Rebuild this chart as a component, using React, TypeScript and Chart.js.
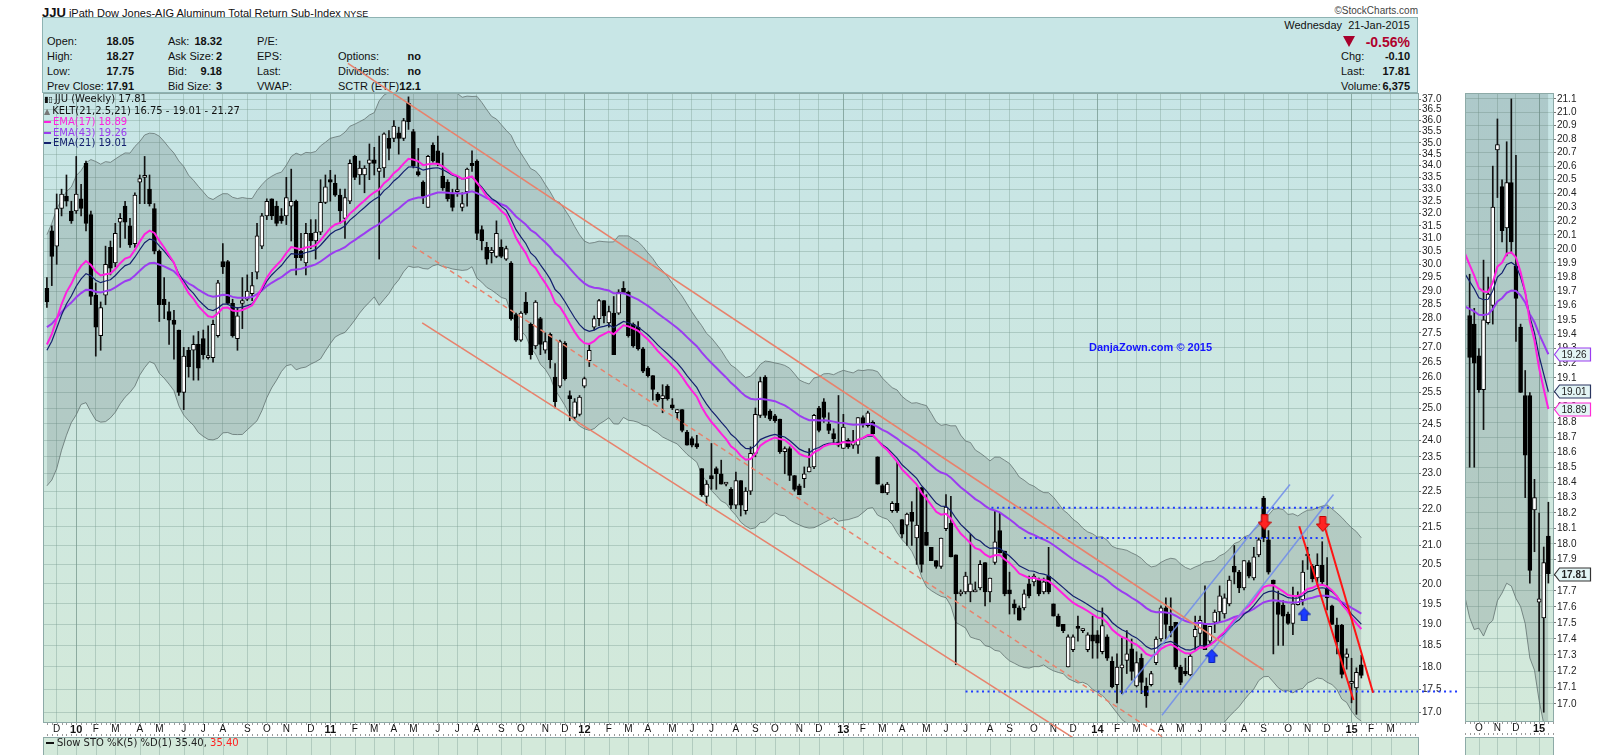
import React, { useEffect, useRef } from 'react';
import { Chart, registerables } from 'chart.js';

Chart.register(...registerables);

const FONT = '"Liberation Sans", Arial, sans-serif';

// ---------- data (weekly bars, first bar = week of 23-Nov-2009) ----------
const START_DATE_UTC = Date.UTC(2009, 10, 23);
const MONTH_LETTERS = ['J', 'F', 'M', 'A', 'M', 'J', 'J', 'A', 'S', 'O', 'N', 'D'];

const OPEN = [
  29.1, 31.3, 30.7, 32.2, 32.7, 32.1, 32.1, 32.6, 34.1, 31.95,
  28.85, 27.4, 28.85, 30.65, 30.05, 31.65, 32.3, 31.5, 30.8, 33.3,
  33.5, 33.0, 32.2, 30.5, 28.7, 28.25, 27.95, 27.6, 25.5, 26.9,
  26.9, 27.1, 27.3, 26.65, 26.65, 27.4, 30.1, 30.1, 28.55, 27.3,
  28.55, 28.7, 28.9, 29.7, 30.7, 31.9, 32.6, 32.3, 31.9, 31.9,
  32.3, 32.5, 30.5, 30.05, 31.2, 30.9, 31.25, 32.45, 33.4, 33.25,
  32.75, 31.8, 32.5, 34.4, 33.6, 33.6, 34.1, 34.25, 33.75, 33.9,
  35.2, 35.2, 35.45, 35.2, 36.8, 35.5, 33.75, 33.3, 32.25, 34.9,
  34.65, 33.55, 33.3, 32.8, 32.9, 32.25, 32.9, 34.1, 34.2, 31.35,
  30.65, 30.45, 30.3, 30.65, 30.2, 30.05, 28.15, 27.25, 28.6, 27.8,
  27.05, 28.0, 26.9, 27.45, 26.0, 25.7, 27.15, 25.4, 24.7, 24.8,
  25.7, 26.55, 27.7, 28.0, 28.65, 27.85, 28.2, 28.2, 29.1, 28.95,
  27.8, 27.7, 26.95, 26.3, 26.05, 25.45, 25.3, 25.7, 25.1, 24.85,
  24.95, 24.25, 24.05, 23.9, 23.15, 22.35, 22.95, 23.15, 23.0, 22.7,
  22.55, 22.1, 22.8, 21.95, 22.5, 23.6, 24.77, 26.0, 24.9, 24.75,
  24.65, 23.65, 23.75, 22.95, 22.65, 22.86, 23.05, 23.2, 25.0, 25.2,
  24.5, 24.2, 23.95, 23.75, 24.0, 23.85, 23.85, 24.7, 24.45, 24.55,
  23.5, 22.66, 22.45, 21.95, 22.15, 21.7, 21.55, 21.9, 21.2, 22.6,
  21.35, 20.95, 20.6, 20.45, 21.45, 21.6, 20.75, 19.75, 19.8, 19.8,
  19.8, 19.9, 20.55, 19.8, 20.55, 21.4, 20.85, 19.85, 19.5, 19.4,
  19.4, 20.0, 20.05, 20.1, 19.8, 20.2, 19.5, 19.2, 19.0, 18.0,
  18.4, 18.95, 18.85, 18.4, 18.75, 18.75, 18.35, 18.7, 18.13, 17.6,
  17.98, 18.15, 18.42, 17.57, 18.2, 17.57, 17.6, 18.1, 18.65, 19.4,
  18.95, 19.05, 18.0, 17.9, 17.82, 18.7, 18.78, 19.0, 18.6, 19.05,
  19.3, 19.25, 19.5, 20.45, 20.3, 19.9, 20.55, 20.15, 20.75, 22.3,
  21.15, 20.1, 19.53, 19.47, 19.25, 19.02, 19.48, 19.6, 20.72, 20.45,
  20.15, 20.48, 19.88, 19.45, 18.98, 18.98, 18.22, 17.63, 17.53, 18.05,
];
const HIGH = [
  29.5, 31.5, 32.8, 33.0, 33.6, 32.5, 34.4, 33.2, 34.2, 32.1,
  29.3, 28.6, 30.7, 30.9, 31.6, 32.0, 32.5, 31.8, 32.85, 33.6,
  34.4, 33.6, 32.4, 30.55, 29.5, 28.6, 28.3, 27.6, 27.0, 27.0,
  27.4, 27.55, 27.6, 27.75, 27.95, 29.4, 30.8, 30.15, 28.7, 28.4,
  29.5, 29.6, 29.7, 31.6, 32.0, 32.6, 32.6, 32.5, 32.2, 33.5,
  33.85, 32.55, 31.2, 31.6, 31.75, 31.75, 33.4, 33.6, 33.8, 33.6,
  33.0, 33.0, 34.25, 34.45, 34.2, 34.0, 34.95, 34.8, 35.3, 35.45,
  35.55, 36.0, 35.7, 36.1, 37.1, 35.6, 34.75, 33.35, 34.45, 35.0,
  35.3, 34.55, 33.4, 33.0, 33.5, 32.85, 33.9, 34.65, 34.25, 31.5,
  30.85, 30.65, 31.7, 30.95, 30.7, 30.1, 28.2, 28.25, 28.95, 27.85,
  28.65, 28.05, 27.5, 27.5, 26.45, 27.25, 27.2, 25.55, 25.3, 25.4,
  26.0, 27.1, 28.1, 28.7, 28.65, 28.45, 28.8, 29.05, 29.35, 29.0,
  27.85, 27.9, 27.0, 26.35, 26.05, 25.5, 25.75, 25.75, 25.3, 24.95,
  24.95, 24.3, 24.1, 24.15, 23.15, 22.8, 23.9, 23.2, 23.4, 22.75,
  22.6, 23.05, 22.8, 22.6, 23.8, 25.0, 26.0, 26.05, 24.95, 24.8,
  24.65, 23.8, 23.8, 22.95, 22.7, 23.2, 23.75, 24.8, 25.05, 25.3,
  24.85, 24.35, 25.4, 24.8, 24.05, 24.3, 24.7, 24.75, 24.9, 24.6,
  23.5, 22.7, 22.75, 22.2, 23.35, 21.7, 21.88, 22.2, 22.6, 22.6,
  22.4, 20.95, 20.6, 21.2, 22.4, 22.35, 20.75, 19.85, 20.3, 21.3,
  20.05, 20.6, 20.55, 20.15, 21.95, 21.9, 20.85, 20.3, 19.6, 19.45,
  19.85, 20.2, 20.25, 20.15, 20.15, 20.95, 19.5, 19.25, 19.0, 18.75,
  18.75, 19.2, 18.9, 18.8, 19.2, 18.85, 19.4, 18.75, 18.23, 18.3,
  18.7, 18.85, 18.65, 18.35, 18.3, 17.75, 17.9, 18.7, 19.45, 19.65,
  19.65, 19.05, 18.04, 18.2, 18.3, 19.2, 19.2, 19.95, 18.95, 19.35,
  19.95, 19.75, 20.2, 21.0, 20.35, 20.6, 20.6, 20.95, 21.2, 22.35,
  21.4, 20.1, 19.82, 19.58, 19.3, 19.92, 19.8, 20.6, 20.95, 20.5,
  20.78, 21.1, 20.68, 19.47, 19.15, 19.0, 18.42, 18.2, 17.98, 18.27,
];
const LOW = [
  28.4, 29.2, 30.0, 31.9, 32.3, 31.6, 32.0, 31.9, 31.3, 28.5,
  26.7, 26.9, 28.5, 29.6, 29.9, 30.65, 31.0, 30.65, 30.65, 32.4,
  32.4, 32.3, 30.4, 27.9, 28.0, 27.1, 26.6, 25.4, 24.95, 26.0,
  25.9, 25.9, 26.6, 26.6, 26.5, 27.35, 29.65, 28.5, 27.35, 26.9,
  27.65, 28.65, 28.65, 29.45, 30.6, 31.75, 31.75, 31.5, 31.6, 31.55,
  30.9, 29.6, 30.15, 29.6, 30.6, 30.2, 31.15, 32.4, 32.5, 32.7,
  31.6, 31.0, 32.4, 33.4, 33.2, 32.85, 33.4, 33.6, 30.2, 33.5,
  34.25, 35.05, 34.5, 35.1, 35.6, 33.9, 33.55, 32.4, 32.25, 34.15,
  34.0, 32.95, 32.5, 32.1, 32.7, 32.1, 32.3, 33.75, 30.95, 30.55,
  30.0, 30.05, 30.25, 30.25, 30.15, 27.95, 27.2, 27.2, 28.15, 26.6,
  26.95, 26.75, 26.8, 26.3, 25.0, 25.65, 25.9, 24.6, 24.6, 24.75,
  25.65, 26.35, 27.6, 27.75, 27.85, 27.7, 26.75, 28.15, 28.9, 27.35,
  27.0, 26.9, 26.15, 26.0, 25.25, 25.2, 24.85, 25.25, 24.95, 24.65,
  24.25, 23.85, 23.8, 23.75, 22.35, 22.1, 22.55, 22.55, 22.7, 22.65,
  22.0, 22.0, 21.8, 21.85, 22.4, 23.5, 24.7, 24.7, 24.6, 24.55,
  23.6, 23.0, 22.8, 22.5, 22.4, 22.6, 23.05, 23.15, 24.25, 24.55,
  24.2, 23.9, 23.8, 23.75, 23.75, 23.75, 23.6, 24.4, 24.4, 24.15,
  22.7, 22.45, 22.4, 21.9, 21.9, 21.2, 21.0, 21.0, 20.5, 20.3,
  21.0, 20.6, 20.4, 20.4, 21.4, 20.7, 18.05, 19.7, 19.75, 19.55,
  19.8, 19.85, 19.45, 19.55, 20.5, 20.8, 19.7, 19.25, 19.25, 19.1,
  19.35, 19.65, 19.95, 19.7, 19.75, 19.75, 19.2, 18.95, 18.8, 18.0,
  18.35, 18.6, 18.8, 18.35, 18.2, 18.2, 18.3, 18.15, 17.53, 17.2,
  17.4, 17.85, 17.7, 17.55, 17.4, 17.1, 17.57, 18.05, 18.6, 18.65,
  18.7, 17.95, 17.6, 17.8, 17.8, 18.4, 18.5, 18.4, 18.55, 18.8,
  19.05, 19.15, 19.45, 20.0, 19.78, 19.85, 20.15, 20.1, 20.7, 21.1,
  20.25, 18.3, 18.5, 18.5, 19.0, 18.75, 19.47, 19.47, 20.37, 20.05,
  19.95, 19.97, 19.35, 19.0, 18.3, 17.75, 17.95, 17.2, 16.95, 17.75,
];
const CLOSE = [
  28.6, 30.3, 32.2, 32.8, 32.5, 31.7, 32.8, 32.2, 31.6, 28.8,
  27.7, 28.4, 30.0, 29.85, 31.2, 31.8, 31.65, 30.75, 32.75, 33.45,
  33.55, 32.4, 30.5, 28.5, 28.5, 27.95, 27.8, 25.5, 26.7, 26.35,
  27.1, 26.3, 26.75, 26.7, 27.8, 29.3, 29.9, 28.55, 27.4, 28.1,
  28.65, 29.0, 29.2, 31.1, 31.9, 32.5, 31.9, 31.6, 31.7, 32.65,
  32.5, 30.25, 30.25, 31.2, 30.9, 31.25, 32.45, 33.1, 33.3, 32.75,
  32.1, 32.65, 34.1, 33.5, 33.9, 33.9, 34.25, 34.1, 33.9, 35.4,
  34.75, 35.75, 35.2, 36.0, 35.95, 34.0, 33.6, 32.7, 34.4, 34.2,
  34.1, 33.05, 32.6, 32.25, 32.95, 32.4, 33.85, 34.0, 31.2, 30.9,
  30.2, 30.55, 31.2, 30.3, 30.6, 28.0, 27.25, 28.2, 28.2, 26.75,
  28.6, 27.1, 27.2, 26.58, 25.2, 27.2, 25.95, 25.3, 25.2, 25.35,
  25.95, 26.9, 28.0, 28.65, 28.1, 28.25, 26.75, 28.95, 28.95, 27.4,
  27.05, 26.95, 26.2, 26.05, 25.6, 25.25, 25.4, 25.3, 25.0, 24.95,
  24.3, 23.85, 23.85, 23.8, 22.4, 22.7, 22.85, 23.0, 22.7, 22.7,
  22.1, 22.8, 22.1, 22.5, 23.6, 24.8, 25.85, 24.77, 24.65, 24.6,
  23.65, 23.75, 22.95, 22.55, 22.4, 23.0, 23.2, 24.77, 24.3, 24.7,
  24.3, 24.05, 23.85, 24.4, 23.8, 23.95, 24.7, 24.5, 24.85, 24.2,
  22.7, 22.45, 22.7, 22.15, 21.95, 21.3, 21.85, 21.65, 21.55, 20.5,
  21.0, 20.6, 20.45, 21.2, 22.05, 20.7, 19.75, 19.8, 20.2, 20.0,
  19.85, 20.5, 19.8, 20.15, 21.1, 20.8, 19.75, 19.75, 19.4, 19.1,
  19.75, 19.7, 20.2, 19.75, 20.05, 19.8, 19.2, 18.95, 18.85, 18.7,
  18.7, 18.9, 18.9, 18.75, 18.6, 18.55, 18.97, 18.2, 17.55, 18.0,
  18.05, 18.3, 17.9, 18.1, 17.65, 17.35, 17.85, 18.65, 19.4, 19.0,
  18.85, 18.0, 17.65, 17.84, 18.25, 18.88, 19.1, 18.4, 18.95, 19.3,
  19.7, 19.65, 20.1, 20.3, 19.9, 20.6, 20.2, 20.7, 21.15, 21.2,
  20.3, 20.0, 19.24, 19.2, 19.02, 19.5, 19.68, 20.3, 20.76, 20.13,
  20.48, 20.05, 19.65, 19.0, 18.58, 17.83, 18.3, 17.65, 17.88, 17.81,
];

// indicator seeds
const EMA_SEEDS = [27.1, 26.9, 27.7]; // EMA17, EMA21, EMA43
const ATR_SEED = 1.7;
const KELT_MULT = 2.5;

// last values shown in legend / axis tags
const LAST_VALUES = [18.89, 19.01, 19.26, 17.81]; // EMA17, EMA21, EMA43, close
const KELT_LAST = [16.75, 19.01, 21.27];

// first bar shown in the zoomed side panel
const SIDE_FIRST_BAR = 252;

const MAIN_Y_TICKS = [
  17.0, 17.5, 18.0, 18.5, 19.0, 19.5, 20.0, 20.5, 21.0, 21.5, 22.0, 22.5, 23.0, 23.5,
  24.0, 24.5, 25.0, 25.5, 26.0, 26.5, 27.0, 27.5, 28.0, 28.5, 29.0, 29.5, 30.0, 30.5,
  31.0, 31.5, 32.0, 32.5, 33.0, 33.5, 34.0, 34.5, 35.0, 35.5, 36.0, 36.5, 37.0,
];
const SIDE_Y_TICKS = [
  17.0, 17.1, 17.2, 17.3, 17.4, 17.5, 17.6, 17.7, 17.8, 17.9, 18.0, 18.1, 18.2, 18.3,
  18.4, 18.5, 18.6, 18.7, 18.8, 18.9, 19.0, 19.1, 19.2, 19.3, 19.4, 19.5, 19.6, 19.7,
  19.8, 19.9, 20.0, 20.1, 20.2, 20.3, 20.4, 20.5, 20.6, 20.7, 20.8, 20.9, 21.0, 21.1,
];

// annotations (week index, price)
const CHANNEL_UPPER = [{ x: 61.6, y: 38.71 }, { x: 249.0, y: 17.93 }];
const CHANNEL_MID = [{ x: 74.8, y: 30.71 }, { x: 233.2, y: 16.15 }];
const CHANNEL_LOWER = [{ x: 76.8, y: 27.85 }, { x: 214.7, y: 16.15 }];
const UP_LINE_A = [{ x: 220.0, y: 17.37 }, { x: 254.4, y: 22.69 }];
const UP_LINE_B = [{ x: 228.2, y: 16.93 }, { x: 263.3, y: 22.4 }];
const DOWN_LINE_C = [{ x: 256.3, y: 21.52 }, { x: 267.4, y: 17.26 }];
const DOWN_LINE_D = [{ x: 261.4, y: 21.55 }, { x: 271.4, y: 17.42 }];
const LEVEL_HIGH = [{ x: 193.3, y: 22.03 }, { x: 263.3, y: 22.03 }];
const LEVEL_MID = [{ x: 200.0, y: 21.2 }, { x: 261.6, y: 21.2 }];
const LEVEL_LOW = [{ x: 188.0, y: 17.45 }, { x: 288.8, y: 17.45 }];
const SELL_ARROWS = [{ x: 249.2, y: 21.63 }, { x: 261.1, y: 21.58 }];
const BUY_ARROWS = [{ x: 238.4, y: 18.25 }, { x: 257.3, y: 19.24 }];

// ---------- helpers ----------
function weekDate(i: number) {
  return new Date(START_DATE_UTC + i * 7 * 86400000);
}
function monthTicks(from: number, to: number) {
  const out: any[] = [];
  for (let i = Math.ceil(from); i <= to; i++) {
    const d = weekDate(i);
    if (d.getUTCDate() <= 7) {
      const m = d.getUTCMonth();
      out.push({
        value: i,
        label: m === 0 ? String(d.getUTCFullYear() % 100).padStart(2, '0') : MONTH_LETTERS[m],
        year: m === 0,
      });
    }
  }
  return out;
}
function emaSeries(src: number[], n: number, seed: number) {
  const k = 2 / (n + 1);
  let e = seed;
  return src.map((v, i) => {
    if (i > 0) e = e + k * (v - e);
    return e;
  });
}
function atrSeries(n: number, seed: number) {
  let a = seed;
  return CLOSE.map((_, i) => {
    if (i === 0) return a;
    const pc = CLOSE[i - 1];
    const tr = Math.max(HIGH[i] - LOW[i], Math.abs(HIGH[i] - pc), Math.abs(LOW[i] - pc));
    a = (a * (n - 1) + tr) / n;
    return a;
  });
}
function makeArrow(fill: string, stroke: string, down: boolean, w: number, h: number) {
  const c = document.createElement('canvas');
  c.width = w;
  c.height = h;
  const g = c.getContext('2d') as CanvasRenderingContext2D;
  const sw = w * 0.22;
  const hh = h * 0.5;
  g.beginPath();
  if (down) {
    g.moveTo(w / 2 - sw, 0.5); g.lineTo(w / 2 + sw, 0.5); g.lineTo(w / 2 + sw, hh);
    g.lineTo(w - 0.5, hh); g.lineTo(w / 2, h - 0.5); g.lineTo(0.5, hh); g.lineTo(w / 2 - sw, hh);
  } else {
    g.moveTo(w / 2, 0.5); g.lineTo(w - 0.5, hh); g.lineTo(w / 2 + sw, hh); g.lineTo(w / 2 + sw, h - 0.5);
    g.lineTo(w / 2 - sw, h - 0.5); g.lineTo(w / 2 - sw, hh); g.lineTo(0.5, hh);
  }
  g.closePath();
  g.fillStyle = fill;
  g.fill();
  g.strokeStyle = stroke;
  g.lineWidth = 1;
  g.stroke();
  return c;
}

const GRID = 'rgba(120,155,145,0.38)';
const GRID_YEAR = 'rgba(95,130,120,0.6)';
const FRAME = '#8daaa7';

function decorPlugin(id: string, tags: boolean) {
  return {
    id,
    beforeDraw(chart: any) {
      const { ctx, chartArea: a } = chart;
      ctx.save();
      const g = ctx.createLinearGradient(0, a.top, 0, a.bottom);
      g.addColorStop(0, '#c7e5e6');
      g.addColorStop(1, '#d3e9da');
      ctx.fillStyle = g;
      ctx.fillRect(a.left, a.top, a.right - a.left, a.bottom - a.top);
      ctx.restore();
    },
    afterDraw(chart: any) {
      const { ctx, chartArea: a, scales } = chart;
      const xs = scales.x;
      ctx.save();
      ctx.strokeStyle = FRAME;
      ctx.lineWidth = 1;
      ctx.strokeRect(Math.round(a.left) + 0.5, Math.round(a.top) + 0.5, Math.round(a.right - a.left), Math.round(a.bottom - a.top));
      // weekly tick marks along the date strip
      ctx.strokeStyle = '#9a9a9a';
      for (let i = Math.ceil(xs.min); i <= xs.max; i++) {
        const x = Math.round(xs.getPixelForValue(i)) + 0.5;
        ctx.beginPath();
        ctx.moveTo(x, a.bottom + 1); ctx.lineTo(x, a.bottom + 3);
        ctx.moveTo(x, a.bottom + 12); ctx.lineTo(x, a.bottom + 14);
        ctx.stroke();
      }
      // indicator panel below
      const top = 737;
      ctx.fillStyle = '#d3e9da';
      ctx.fillRect(a.left, top, a.right - a.left, 30);
      ctx.strokeStyle = GRID;
      xs.ticks.forEach((t: any) => {
        const x = Math.round(xs.getPixelForValue(t.value)) + 0.5;
        ctx.beginPath(); ctx.moveTo(x, top); ctx.lineTo(x, top + 30); ctx.stroke();
      });
      ctx.strokeStyle = FRAME;
      ctx.strokeRect(Math.round(a.left) + 0.5, top + 0.5, Math.round(a.right - a.left), 30);
      if (tags) {
        const ys = scales.y;
        const defs = [
          { v: LAST_VALUES[2], c: '#9b3cf0', b: false },
          { v: LAST_VALUES[1], c: '#2a3560', b: false },
          { v: LAST_VALUES[0], c: '#ff2bd6', b: false },
          { v: LAST_VALUES[3], c: '#333333', b: true },
        ];
        defs.forEach((d) => {
          const y = Math.round(ys.getPixelForValue(d.v)) + 0.5;
          const x0 = a.right + 1.5;
          ctx.beginPath();
          ctx.moveTo(x0, y);
          ctx.lineTo(x0 + 5, y - 6.5);
          ctx.lineTo(x0 + 36, y - 6.5);
          ctx.lineTo(x0 + 36, y + 6.5);
          ctx.lineTo(x0 + 5, y + 6.5);
          ctx.closePath();
          ctx.fillStyle = '#e3f5f5';
          ctx.fill();
          ctx.strokeStyle = d.c;
          ctx.lineWidth = 1.2;
          ctx.stroke();
          ctx.fillStyle = '#222';
          ctx.font = (d.b ? 'bold ' : '') + '10px ' + FONT;
          ctx.textBaseline = 'middle';
          ctx.textAlign = 'left';
          ctx.fillText(d.v.toFixed(2), x0 + 7, y + 0.5);
        });
      }
      ctx.restore();
    },
  };
}

function T(props: any) {
  const { x, y, r, size = 11, bold, color = '#111', children, family } = props;
  const style: any = {
    position: 'absolute',
    top: y - size * 0.6,
    fontSize: size,
    lineHeight: `${Math.round(size * 1.2)}px`,
    fontWeight: bold ? 'bold' : 'normal',
    color,
    whiteSpace: 'nowrap',
    fontFamily: family || FONT,
  };
  if (r !== undefined) style.right = 1600 - r;
  else style.left = x;
  return <div style={style}>{children}</div>;
}

export default function App() {
  const mainRef = useRef<HTMLCanvasElement | null>(null);
  const sideRef = useRef<HTMLCanvasElement | null>(null);

  useEffect(() => {
    const ema17 = emaSeries(CLOSE, 17, EMA_SEEDS[0]);
    const ema21 = emaSeries(CLOSE, 21, EMA_SEEDS[1]);
    const ema43 = emaSeries(CLOSE, 43, EMA_SEEDS[2]);
    const atr = atrSeries(21, ATR_SEED);
    const kUp = ema21.map((m, i) => m + KELT_MULT * atr[i]);
    const kLo = ema21.map((m, i) => m - KELT_MULT * atr[i]);
    const pts = (arr: number[]) => arr.map((v, i) => ({ x: i, y: v }));

    const makeSets = (from: number, clipBars: boolean) => {
      const idx = OPEN.map((_, i) => i).filter((i) => i >= from);
      const bodies = idx.map((i) => ({ x: i, y: [Math.min(OPEN[i], CLOSE[i]), Math.max(OPEN[i], CLOSE[i])] }));
      const bodyColors = idx.map((i) => (CLOSE[i] < OPEN[i] ? '#000000' : '#ffffff'));
      const wicks = idx.map((i) => ({ x: i, y: [LOW[i], HIGH[i]] }));
      const barClip = clipBars ? 0 : undefined;
      return [
        {
          type: 'line', data: pts(kUp), borderColor: 'rgba(95,110,108,0.75)', borderWidth: 1,
          backgroundColor: 'rgba(70,92,90,0.2)', fill: '+1', pointRadius: 0, order: 20,
        },
        {
          type: 'line', data: pts(kLo), borderColor: 'rgba(95,110,108,0.75)', borderWidth: 1,
          pointRadius: 0, fill: false, order: 20,
        },
        {
          type: 'bar', data: bodies, backgroundColor: bodyColors, borderColor: '#000', borderWidth: 1,
          borderSkipped: false, barThickness: 4, grouped: false, minBarLength: 2, order: 3, clip: barClip,
        },
        {
          type: 'bar', data: wicks, backgroundColor: '#111', borderWidth: 0, barThickness: 1,
          grouped: false, order: 4, clip: barClip,
        },
        { type: 'line', data: pts(ema43), borderColor: '#9b3cf0', borderWidth: 2, pointRadius: 0, order: 2 },
        { type: 'line', data: pts(ema21), borderColor: '#14206e', borderWidth: 1.2, pointRadius: 0, order: 1 },
        { type: 'line', data: pts(ema17), borderColor: '#ff1fe0', borderWidth: 2, pointRadius: 0, order: 0 },
      ];
    };

    const lineDs = (data: any, color: string, width: number, dash?: number[]) => ({
      type: 'line', data, borderColor: color, borderWidth: width, borderDash: dash || [],
      pointRadius: 0, clip: false, fill: false, order: -2,
    });

    const redArrow = makeArrow('#ff2424', '#c00000', true, 14, 16);
    const blueArrow = makeArrow('#1c3cff', '#0a1fb0', false, 13, 14);

    const mainTicks = monthTicks(0, 279);
    const mainLabel = new Map(mainTicks.map((t: any) => [t.value, t]));
    const sideTicks = monthTicks(251, 270);
    const sideLabel = new Map(sideTicks.map((t: any) => [t.value, t]));

    const xAxis = (min: number, max: number, ticks: any[], map: Map<any, any>) => ({
      type: 'linear',
      min,
      max,
      offset: false,
      afterBuildTicks: (s: any) => { s.ticks = ticks.map((t: any) => ({ value: t.value })); },
      afterFit: (s: any) => { s.height = 14; },
      ticks: {
        autoSkip: false,
        maxRotation: 0,
        padding: 1,
        color: '#111',
        font: (c: any) => {
          const t = c.tick && map.get(c.tick.value);
          return t && t.year ? { size: 11, weight: 'bold', family: FONT } : { size: 10, family: FONT };
        },
        callback: (v: any) => (map.get(v) ? map.get(v).label : ''),
      },
      grid: {
        offset: false,
        color: (c: any) => {
          const t = c.tick && map.get(c.tick.value);
          return t && t.year ? GRID_YEAR : GRID;
        },
        lineWidth: 1,
        drawTicks: false,
      },
      border: { display: false },
    });

    const yAxis = (min: number, max: number, ticks: number[], width: number) => ({
      type: 'logarithmic',
      position: 'right',
      min,
      max,
      afterBuildTicks: (s: any) => { s.ticks = ticks.map((v) => ({ value: v })); },
      afterFit: (s: any) => { s.width = width; },
      ticks: {
        autoSkip: false,
        padding: 1,
        color: '#222',
        font: { size: 10, family: FONT },
        callback: (v: any) => Number(v).toFixed(1),
      },
      grid: { color: GRID, lineWidth: 1, tickLength: 3, tickColor: '#777' },
      border: { display: false },
    });

    Chart.defaults.font.family = FONT;

    const main = new Chart(mainRef.current as HTMLCanvasElement, {
      type: 'bar',
      data: {
        datasets: [
          ...makeSets(0, false),
          lineDs(CHANNEL_UPPER, '#e8826c', 1.6),
          lineDs(CHANNEL_MID, '#e8826c', 1.5, [5, 4]),
          lineDs(CHANNEL_LOWER, '#e8826c', 1.6),
          lineDs(UP_LINE_A, 'rgba(110,140,235,0.85)', 1.5),
          lineDs(UP_LINE_B, 'rgba(110,140,235,0.85)', 1.5),
          lineDs(DOWN_LINE_C, '#ff1414', 2),
          lineDs(DOWN_LINE_D, '#ff1414', 2),
          lineDs(LEVEL_HIGH, '#1f3cff', 2, [2, 3.5]),
          lineDs(LEVEL_MID, '#1f3cff', 2, [2, 3.5]),
          lineDs(LEVEL_LOW, '#1f3cff', 2, [2, 3.5]),
          {
            type: 'line', data: SELL_ARROWS, showLine: false, pointStyle: redArrow, pointRadius: 8,
            clip: false, order: -5,
          },
          {
            type: 'line', data: BUY_ARROWS, showLine: false, pointStyle: blueArrow, pointRadius: 8,
            clip: false, order: -5,
          },
        ] as any,
      },
      options: {
        responsive: false,
        animation: false,
        events: [],
        layout: { padding: { left: 43, top: 93, right: 0, bottom: 19 } },
        plugins: { legend: { display: false }, tooltip: { enabled: false } },
        scales: {
          x: xAxis(-0.8, 280.6, mainTicks, mainLabel),
          y: yAxis(16.786, 37.283, MAIN_Y_TICKS, 42),
        } as any,
      },
      plugins: [decorPlugin('mainDecor', false)],
    } as any);

    const side = new Chart(sideRef.current as HTMLCanvasElement, {
      type: 'bar',
      data: { datasets: makeSets(SIDE_FIRST_BAR, true) as any },
      options: {
        responsive: false,
        animation: false,
        events: [],
        layout: { padding: { left: 5, top: 93, right: 0, bottom: 20 } },
        plugins: { legend: { display: false }, tooltip: { enabled: false } },
        scales: {
          x: xAxis(251, 270, sideTicks, sideLabel),
          y: yAxis(16.897, 21.145, SIDE_Y_TICKS, 47),
        } as any,
      },
      plugins: [decorPlugin('sideDecor', true)],
    } as any);

    return () => {
      main.destroy();
      side.destroy();
    };
  }, []);

  const sw = (c: string, w = 2) => (
    <span style={{ display: 'inline-block', width: 7, height: w, background: c, verticalAlign: 'middle', marginRight: 2 }} />
  );

  return (
    <div style={{ position: 'absolute', left: 0, top: 0, width: 1600, height: 755, background: '#fff', overflow: 'hidden', fontFamily: FONT }}>
      {/* title */}
      <div style={{ position: 'absolute', left: 42, top: 3, whiteSpace: 'nowrap', color: '#111' }}>
        <span style={{ fontSize: 13, fontWeight: 'bold' }}>JJU</span>
        <span style={{ fontSize: 11 }}> iPath Dow Jones-AIG Aluminum Total Return Sub-Index </span>
        <span style={{ fontSize: 9 }}>NYSE</span>
      </div>
      <T r={1418} y={11} size={10} color="#444">©StockCharts.com</T>

      {/* info box */}
      <div style={{ position: 'absolute', left: 42, top: 17, width: 1376, height: 76, background: '#c8e6e6', border: '1px solid #8fb3b3', boxSizing: 'border-box' }} />
      <T x={47} y={42}>Open:</T>
      <T r={134} y={42} bold>18.05</T>
      <T x={47} y={57}>High:</T>
      <T r={134} y={57} bold>18.27</T>
      <T x={47} y={72}>Low:</T>
      <T r={134} y={72} bold>17.75</T>
      <T x={47} y={87}>Prev Close:</T>
      <T r={134} y={87} bold>17.91</T>

      <T x={168} y={42}>Ask:</T>
      <T r={222} y={42} bold>18.32</T>
      <T x={168} y={57}>Ask Size:</T>
      <T r={222} y={57} bold>2</T>
      <T x={168} y={72}>Bid:</T>
      <T r={222} y={72} bold>9.18</T>
      <T x={168} y={87}>Bid Size:</T>
      <T r={222} y={87} bold>3</T>

      <T x={257} y={42}>P/E:</T>
      <T x={257} y={57}>EPS:</T>
      <T x={257} y={72}>Last:</T>
      <T x={257} y={87}>VWAP:</T>

      <T x={338} y={57}>Options:</T>
      <T r={421} y={57} bold>no</T>
      <T x={338} y={72}>Dividends:</T>
      <T r={421} y={72} bold>no</T>
      <T x={338} y={87}>SCTR (ETF):</T>
      <T r={421} y={87} bold>12.1</T>

      <T r={1410} y={26}>Wednesday&nbsp;&nbsp;21-Jan-2015</T>
      <div style={{ position: 'absolute', left: 1343, top: 36, width: 0, height: 0, borderLeft: '6px solid transparent', borderRight: '6px solid transparent', borderTop: '11px solid #a8002c' }} />
      <T r={1410} y={42} size={14} bold color="#b0002c">-0.56%</T>
      <T x={1341} y={57}>Chg:</T>
      <T r={1410} y={57} bold>-0.10</T>
      <T x={1341} y={72}>Last:</T>
      <T r={1410} y={72} bold>17.81</T>
      <T x={1341} y={87}>Volume:</T>
      <T r={1410} y={87} bold>6,375</T>

      <canvas ref={mainRef} width={1460} height={755} style={{ position: 'absolute', left: 0, top: 0, zIndex: 1 }} />
      <canvas ref={sideRef} width={140} height={755} style={{ position: 'absolute', left: 1460, top: 0, zIndex: 1 }} />

      {/* legend inside plot */}
      <div style={{ position: 'absolute', left: 44, top: 94, zIndex: 2, fontSize: 10, lineHeight: '10.5px', fontFamily: '"DejaVu Sans", Verdana, sans-serif', whiteSpace: 'nowrap' }}>
        <div style={{ color: '#111' }}><span style={{ fontSize: 8, marginRight: 2 }}>▮▯</span>JJU (Weekly) 17.81</div>
        <div style={{ color: '#111' }}><span style={{ fontSize: 8, color: '#777', marginRight: 2 }}>▲</span>KELT(21,2.5,21) {KELT_LAST[0].toFixed(2)} - {KELT_LAST[1].toFixed(2)} - {KELT_LAST[2].toFixed(2)}</div>
        <div style={{ color: '#ff1fe0' }}>{sw('#ff1fe0')}EMA(17) {LAST_VALUES[0].toFixed(2)}</div>
        <div style={{ color: '#9b3cf0' }}>{sw('#9b3cf0')}EMA(43) {LAST_VALUES[2].toFixed(2)}</div>
        <div style={{ color: '#14206e' }}>{sw('#14206e')}EMA(21) {LAST_VALUES[1].toFixed(2)}</div>
      </div>

      <div style={{ position: 'absolute', left: 1089, top: 341, zIndex: 2, fontSize: 11, fontWeight: 'bold', color: '#1414ff', whiteSpace: 'nowrap' }}>
        DanjaZown.com © 2015
      </div>

      <div style={{ position: 'absolute', left: 46, top: 737, zIndex: 2, fontSize: 10, lineHeight: '12px', color: '#222', whiteSpace: 'nowrap', fontFamily: '"DejaVu Sans", Verdana, sans-serif' }}>
        <span style={{ display: 'inline-block', width: 8, height: 2, background: '#111', verticalAlign: 'middle', marginRight: 3 }} />
        Slow STO %K(5) %D(1) 35.40, <span style={{ color: '#ff2020' }}>35.40</span>
      </div>
    </div>
  );
}
